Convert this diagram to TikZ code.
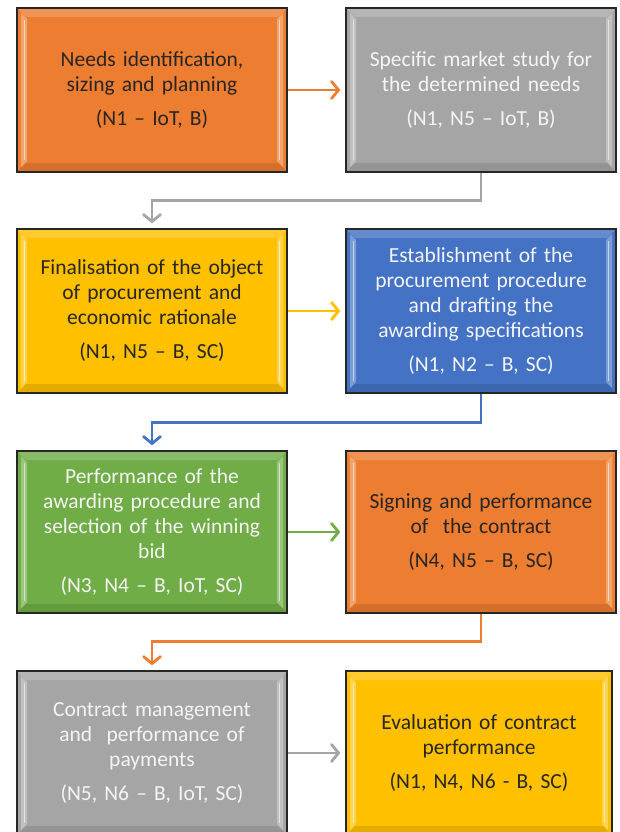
\documentclass[tikz,border=0pt]{standalone}
\usepackage{fontspec}
\setmainfont{Carlito}
\usetikzlibrary{arrows.meta}

\definecolor{cOrange}{HTML}{ED7D31}
\definecolor{cGray}{HTML}{A5A5A5}
\definecolor{cGold}{HTML}{FFC000}
\definecolor{cBlue}{HTML}{4472C4}
\definecolor{cGreen}{HTML}{70AD47}
\definecolor{darktext}{HTML}{262626}
\definecolor{lighttext}{HTML}{F4F4F4}

\tikzset{
  % bevelled process box
  stepbox/.style={
    draw=black!85, line width=1.3pt,
    minimum width=270pt, minimum height=164pt,
    inner sep=0pt, text width=256pt, align=center,
    font=\fontsize{21.5}{25}\selectfont,
    path picture={
      \coordinate (bsw) at (path picture bounding box.south west);
      \coordinate (bne) at (path picture bounding box.north east);
      \coordinate (bnw) at (path picture bounding box.north west);
      \coordinate (bse) at (path picture bounding box.south east);
      % soft bevel frame
      \fill[black,opacity=.10] ([xshift=1pt,yshift=1pt]bsw) -- ([xshift=-1pt,yshift=1pt]bse)
        -- ([xshift=-9pt,yshift=9pt]bse) -- ([xshift=9pt,yshift=9pt]bsw) -- cycle;
      \fill[white,opacity=.18] ([xshift=1pt,yshift=-1pt]bnw) -- ([xshift=-1pt,yshift=-1pt]bne)
        -- ([xshift=-9pt,yshift=-9pt]bne) -- ([xshift=9pt,yshift=-9pt]bnw) -- cycle;
      % vertical highlight strips
      \fill[white,opacity=.30] ([xshift=4pt,yshift=5pt]bsw) -- ([xshift=4pt,yshift=-5pt]bnw)
        -- ([xshift=10pt,yshift=-11pt]bnw) -- ([xshift=10pt,yshift=11pt]bsw) -- cycle;
      \fill[white,opacity=.30] ([xshift=-4pt,yshift=5pt]bse) -- ([xshift=-4pt,yshift=-5pt]bne)
        -- ([xshift=-10pt,yshift=-11pt]bne) -- ([xshift=-10pt,yshift=11pt]bse) -- cycle;
      \draw[white,opacity=.55,line width=1.6pt] ([xshift=7.5pt,yshift=12pt]bsw) -- ([xshift=7.5pt,yshift=-12pt]bnw);
      \draw[white,opacity=.55,line width=1.6pt] ([xshift=-7.5pt,yshift=12pt]bse) -- ([xshift=-7.5pt,yshift=-12pt]bne);
    }
  },
  darkbox/.style={stepbox, text=darktext},
  lightbox/.style={stepbox, text=lighttext},
  flow/.style={line width=2.8pt, shorten >=5pt,
    -{Straight Barb[length=7pt,width=17pt,line cap=round]}},
}

\newcommand{\codegap}{\\[9pt]}

\begin{document}
\begin{tikzpicture}[x=1pt,y=-1pt]
  \useasboundingbox (0,0) rectangle (619,832);
  \fill[white] (0,0) rectangle (619,832);

  % row 1
  \node[darkbox, fill=cOrange] (n1) at (152,90)
    {Needs identification,\\ sizing and planning\codegap (N1 -- IoT, B)};
  \node[lightbox, fill=cGray] (n2) at (481,90)
    {Specific market study for\\ the determined needs\codegap (N1, N5 -- IoT, B)};

  % row 2
  \node[darkbox, fill=cGold] (n3) at (152,311)
    {Finalisation of the object\\ of procurement and\\ economic rationale\codegap (N1, N5 -- B, SC)};
  \node[lightbox, fill=cBlue] (n4) at (481,311)
    {Establishment of the\\ procurement procedure\\ and drafting the\\ awarding specifications\codegap (N1, N2 -- B, SC)};

  % row 3
  \node[lightbox, fill=cGreen, minimum height=162pt] (n5) at (152,532)
    {Performance of the\\ awarding procedure and\\ selection of the winning\\ bid\codegap (N3, N4 -- B, IoT, SC)};
  \node[darkbox, fill=cOrange, minimum height=162pt] (n6) at (481,532)
    {Signing and performance\\ of~ the contract\codegap (N4, N5 -- B, SC)};

  % row 4
  \node[lightbox, fill=cGray] (n7) at (152,753)
    {Contract management\\ and~ performance of\\ payments\codegap (N5, N6 -- B, IoT, SC)};
  \node[darkbox, fill=cGold, minimum width=266pt] (n8) at (479,753)
    {Evaluation of contract\\ performance\codegap (N1, N4, N6 - B, SC)};

  % connectors
  \draw[flow, cOrange] (n1) -- (n2);
  \draw[flow, cGray] (n2.south) -- ++(0,28) -| (n3.north);
  \draw[flow, cGold] (n3) -- (n4);
  \draw[flow, cBlue] (n4.south) -- ++(0,29) -| (n5.north);
  \draw[flow, cGreen] (n5) -- (n6);
  \draw[flow, cOrange] (n6.south) -- ++(0,28) -| (n7.north);
  \draw[flow, cGray] (n7) -- (n8);
\end{tikzpicture}
\end{document}
